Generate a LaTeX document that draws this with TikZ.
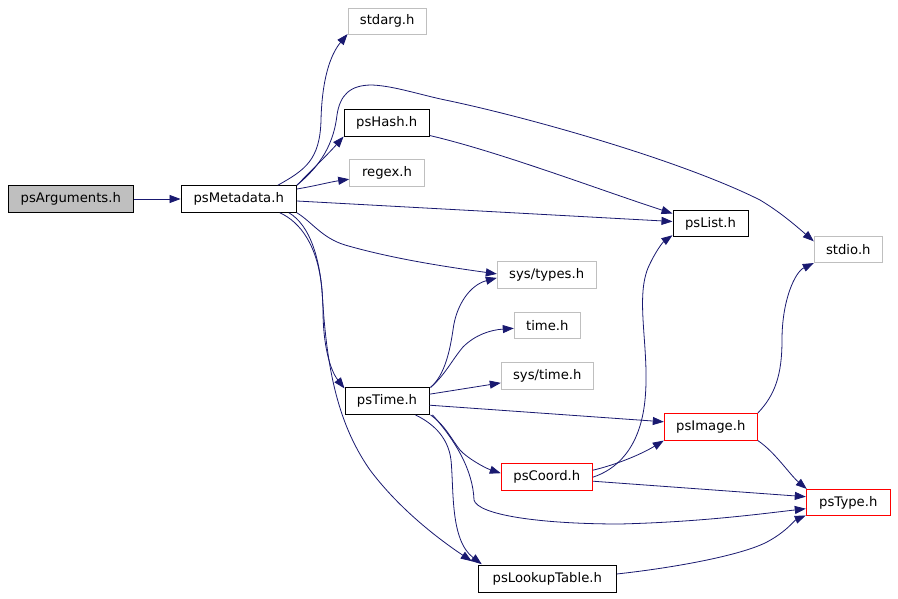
\documentclass[tikz,border=0pt]{standalone}
\usepackage{fontspec}
\setmainfont{DejaVu Sans}
\usetikzlibrary{arrows.meta}
\definecolor{edgec}{HTML}{191970}
\definecolor{grayb}{HTML}{BFBFBF}
\begin{document}
\begin{tikzpicture}[x=1pt,y=-1pt,
  nbox/.style={draw=black,line width=1pt,inner sep=0pt,minimum height=26.5pt,font=\fontsize{13.2}{15}\selectfont},
  gbox/.style={nbox,draw=grayb},
  rbox/.style={nbox,draw=red},
  dep/.style={draw=edgec,line width=0.8pt,-{Triangle[length=11pt,width=8pt]},edgec}]
\useasboundingbox[fill=white] (0,0) rectangle (898,599);
% nodes
\node[nbox,fill=grayb,minimum width=125pt] (args) at (70.8,199) {psArguments.h};
\node[nbox,minimum width=115.3pt] (meta) at (238.7,199) {psMetadata.h};
\node[gbox,minimum width=78.3pt] (stdarg) at (387.2,21.3) {stdarg.h};
\node[nbox,minimum width=85.3pt] (hash) at (386.7,122.8) {psHash.h};
\node[gbox,minimum width=74.6pt] (regex) at (387,173.2) {regex.h};
\node[nbox,minimum width=75pt] (list) at (710.5,223.5) {psList.h};
\node[gbox,minimum width=68pt] (stdio) at (848.3,249.3) {stdio.h};
\node[gbox,minimum width=98.7pt] (systypes) at (546.7,274.9) {sys/types.h};
\node[gbox,minimum width=66pt] (timeh) at (547.3,325.3) {time.h};
\node[gbox,minimum width=92pt] (systime) at (547.3,375.9) {sys/time.h};
\node[nbox,minimum width=84pt] (pstime) at (387,401.2) {psTime.h};
\node[rbox,minimum width=93pt] (image) at (710.8,426.8) {psImage.h};
\node[rbox,minimum width=91pt] (coord) at (546.8,477.2) {psCoord.h};
\node[rbox,minimum width=84pt] (type) at (848.3,502.7) {psType.h};
\node[nbox,minimum width=138pt] (lookup) at (547.3,579) {psLookupTable.h};
% edges
\draw[dep] (args.east) -- (meta.west);
\draw[dep] ([xshift=-19pt]meta.north east) .. controls (305,170) and (320,160) .. (321,120) .. controls (322,80) and (330,55) .. ([yshift=1pt]stdarg.south west);
\draw[dep] (meta.north east) .. controls (310,172) and (330,152) .. (hash.south west);
\draw[dep] (meta.north east) .. controls (315,170) and (333,150) .. (337,115) .. controls (340,95) and (350,85) .. (372,85) .. controls (395,86) and (420,95) .. (450,101) .. controls (530,118) and (680,160) .. (760,200) .. controls (780,212) and (795,225) .. ([yshift=8pt]stdio.west);
\draw[dep] ([yshift=10pt]meta.east) .. controls (315,186) and (330,182) .. ([yshift=-6pt]regex.west);
\draw[dep] ([yshift=-2pt]meta.east) -- ([yshift=2pt]list.west);
\draw[dep] ([yshift=1pt]hash.south east) .. controls (500,152) and (600,190) .. ([yshift=10pt]list.west);
\draw[dep] (meta.south east) .. controls (312,222) and (322,238) .. (345,245) .. controls (390,258) and (440,266) .. ([yshift=1pt]systypes.west);
\draw[dep] ([xshift=1pt]pstime.north east) .. controls (445,375) and (450,350) .. (453,330) .. controls (456,305) and (470,285) .. ([yshift=-3pt]systypes.west);
\draw[dep] ([xshift=1pt]pstime.north east) .. controls (445,375) and (452,360) .. (463,347) .. controls (475,335) and (490,330) .. ([yshift=-3pt]timeh.west);
\draw[dep] ([yshift=7pt]pstime.east) -- ([yshift=-7pt]systime.west);
\draw[dep] ([yshift=-4pt]pstime.east) -- ([yshift=5pt]image.west);
\draw[dep] ([xshift=1pt]pstime.south east) .. controls (445,425) and (452,440) .. (460,450) .. controls (467,458) and (485,468) .. ([yshift=4pt]coord.west);
\draw[dep] ([xshift=3pt]pstime.south east) .. controls (455,440) and (473,470) .. (474,500) .. controls (478,515) and (540,524) .. (620,524) .. controls (700,522) and (760,514) .. ([yshift=-6pt]type.west);
\draw[dep] ([xshift=-14pt]pstime.south east) .. controls (430,422) and (448,435) .. (451,460) .. controls (454,490) and (450,540) .. ([xshift=4pt,yshift=1pt]lookup.north west);
\draw[dep] ([xshift=-8pt]meta.south east) .. controls (310,225) and (322,260) .. (323,310) .. controls (323,345) and (330,370) .. ([yshift=-1pt]pstime.north west);
\draw[dep] ([xshift=-17pt]meta.south east) .. controls (300,222) and (318,245) .. (322,290) .. controls (326,360) and (335,420) .. (370,470) .. controls (400,510) and (440,540) .. ([xshift=-6pt,yshift=4pt]lookup.north west);
\draw[dep] ([yshift=0pt]coord.east) .. controls (615,470) and (640,450) .. (645,400) .. controls (650,350) and (635,300) .. (648,268) .. controls (655,252) and (663,242) .. ([yshift=2pt]list.south west);
\draw[dep] ([yshift=7pt]coord.east) .. controls (615,465) and (640,455) .. (image.south west);
\draw[dep] ([yshift=-4pt]coord.east) -- ([yshift=6pt]type.west);
\draw[dep] (image.north east) .. controls (775,395) and (782,375) .. (782,340) .. controls (782,300) and (795,272) .. (stdio.south west);
\draw[dep] (image.south east) .. controls (775,452) and (790,475) .. ([xshift=1pt]type.north west);
\draw[dep] ([yshift=5pt]lookup.east) .. controls (680,567) and (740,555) .. (765,543) .. controls (785,533) and (795,520) .. ([yshift=1pt]type.south west);
\end{tikzpicture}
\end{document}
